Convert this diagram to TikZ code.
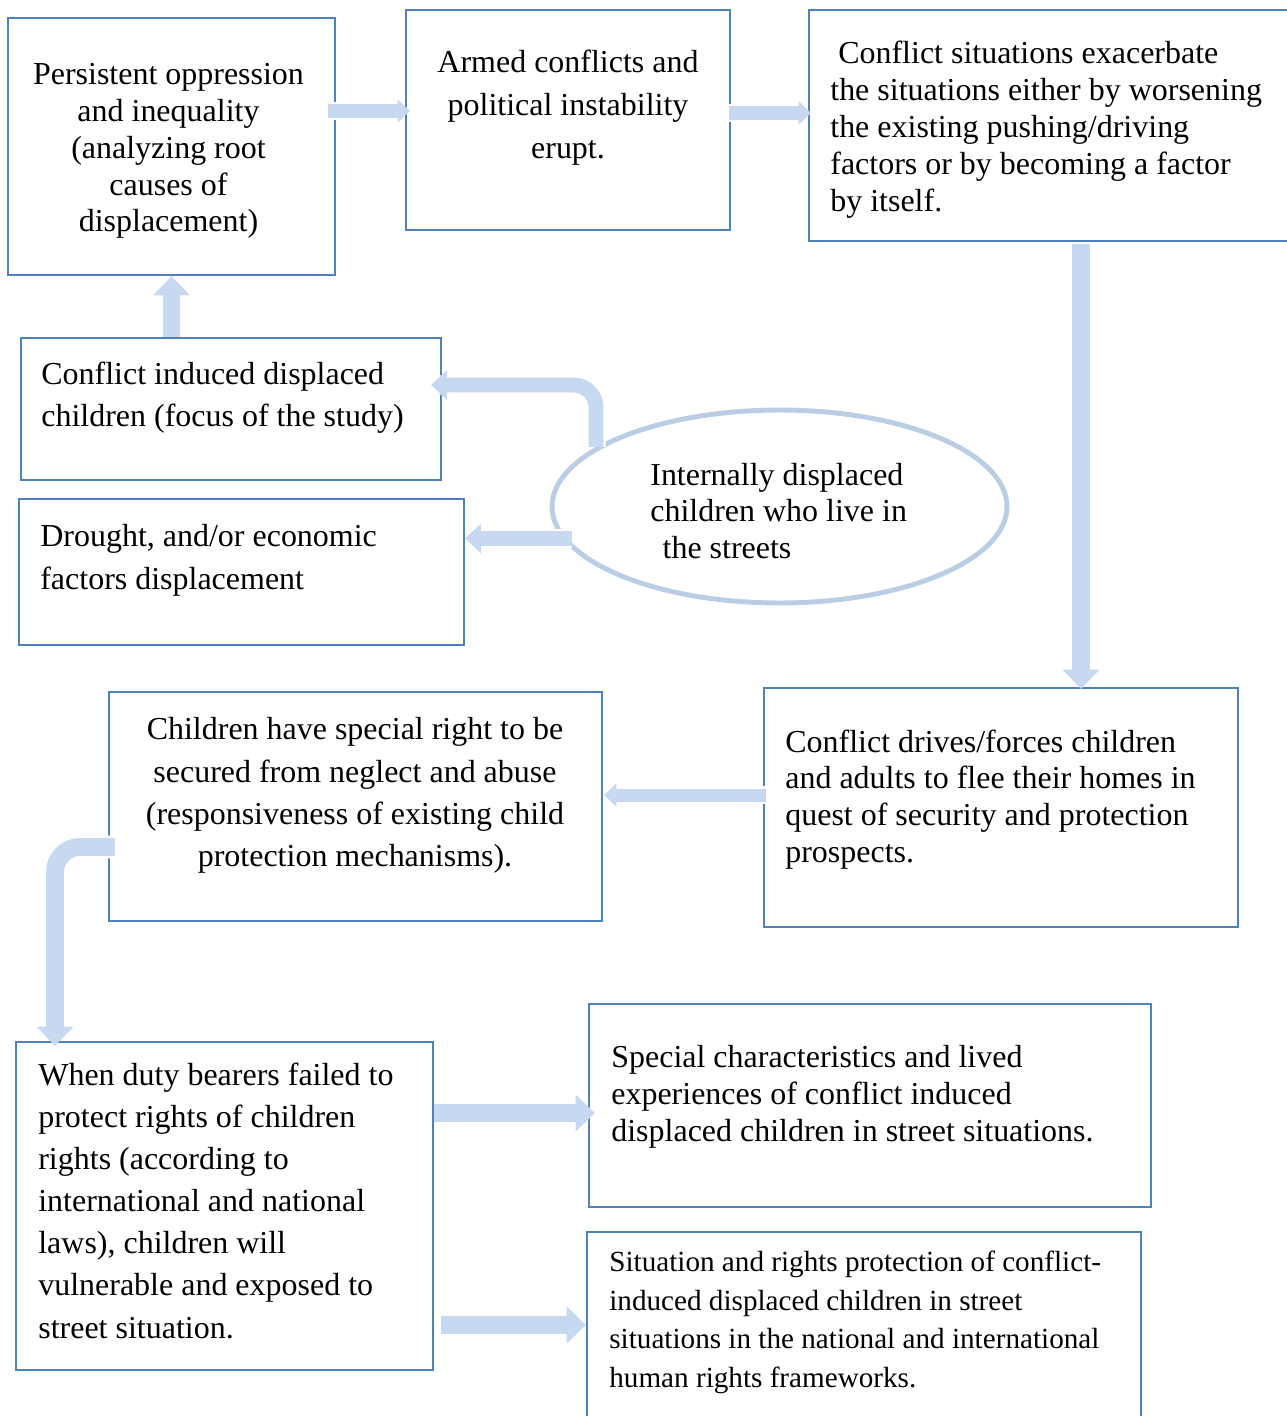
\documentclass[tikz,border=0pt]{standalone}
\usepackage{fontspec}
\setmainfont{Liberation Serif}
\usetikzlibrary{shapes.geometric,arrows.meta,calc}
\definecolor{boxblue}{RGB}{79,129,189}
\definecolor{arrblue}{RGB}{198,217,241}
\definecolor{ellblue}{RGB}{185,205,229}

\tikzset{
  thinarrow/.style={draw=arrblue, line width=7.4pt, -{Triangle[width=13pt,length=7pt]},
    preaction={draw=white, line width=10pt, -, shorten >=4pt}},
  midarrow/.style={draw=arrblue, line width=8.5pt, -{Triangle[width=16.5pt,length=9pt]},
    preaction={draw=white, line width=11pt, -, shorten >=5pt}},
  thickarrow/.style={draw=arrblue, line width=10.2pt, -{Triangle[width=20.5pt,length=11pt]},
    preaction={draw=white, line width=13pt, -, shorten >=6pt}}
}

\begin{document}
\begin{tikzpicture}[x=0.02cm,y=0.02cm]

  \useasboundingbox (0,0) rectangle (1286,-1416);

  % boxes
  \begin{scope}[every node/.style={draw=boxblue, line width=1.3pt, inner sep=0pt}]
    \node[minimum width=6.54cm, minimum height=5.14cm]  (1)  at (171.5,-146.5) {};
    \node[minimum width=6.48cm, minimum height=4.4cm]   (2)  at (568,-120) {};
    \node[minimum width=9.82cm, minimum height=4.62cm]  (3)  at (1054.5,-125.5) {};
    \node[minimum width=8.4cm,  minimum height=2.84cm]  (4)  at (231,-409) {};
    \node[minimum width=8.9cm,  minimum height=2.92cm]  (5)  at (241.5,-572) {};
    \node[minimum width=9.86cm, minimum height=4.58cm]  (6)  at (355.5,-806.5) {};
    \node[minimum width=9.48cm, minimum height=4.78cm]  (7)  at (1001,-807.5) {};
    \node[minimum width=8.34cm, minimum height=6.56cm]  (8)  at (224.5,-1206) {};
    \node[minimum width=11.24cm, minimum height=4.06cm] (9)  at (870,-1105.5) {};
    \node[minimum width=11.08cm, minimum height=4.16cm] (10) at (864,-1336) {};
    \node[ellipse, draw=ellblue, line width=2.8pt,
          minimum width=9.1cm, minimum height=3.86cm]   (11) at (779.5,-506.5) {};
  \end{scope}

  % texts
  \begin{scope}[every node/.style={inner sep=0pt, font=\fontsize{18.2}{21}\selectfont}]
    \node[align=center] (t1) at (168.5,-151)
      {Persistent oppression\\and inequality\\(analyzing root\\causes of\\displacement)};
    \node[align=center, font=\fontsize{18.2}{24.4}\selectfont] (t2) at (568,-108)
      {Armed conflicts and\\political instability\\erupt.};
    \node[align=left, anchor=west] (t3) at (830,-129.5)
      {\hspace*{4.5pt}Conflict situations exacerbate\\the situations either by worsening\\the existing pushing/driving\\factors or by becoming a factor\\by itself.};
    \node[align=left, anchor=west, font=\fontsize{18.2}{23.8}\selectfont] (t4) at (41,-398)
      {Conflict induced displaced\\children (focus of the study)};
    \node[align=left, anchor=west, font=\fontsize{18.2}{24.4}\selectfont] (t5) at (40,-560.5)
      {Drought, and/or economic\\factors displacement};
    \node[align=left, anchor=west] (t6) at (650,-511)
      {Internally displaced\\children who live in\\\hspace*{7pt}the streets};
    \node[align=center, font=\fontsize{18.2}{24}\selectfont] (t7) at (355,-795.5)
      {Children have special right to be\\secured from neglect and abuse\\(responsiveness of existing child\\protection mechanisms).};
    \node[align=left, anchor=west] (t8) at (785,-799.5)
      {Conflict drives/forces children\\and adults to flee their homes in\\quest of security and protection\\prospects.};
    \node[align=left, anchor=west, font=\fontsize{18.2}{24}\selectfont] (t9) at (38,-1200.5)
      {When duty bearers failed to\\protect rights of children\\rights (according to\\international and national\\laws), children will\\vulnerable and exposed to\\street situation.};
    \node[align=left, anchor=west] (t10) at (611,-1097)
      {Special characteristics and lived\\experiences of conflict induced\\displaced children in street situations.};
    \node[align=left, anchor=west, font=\fontsize{16.6}{22}\selectfont] (t11) at (609,-1322.5)
      {Situation and rights protection of conflict-\\induced displaced children in street\\situations in the national and international\\human rights frameworks.};
  \end{scope}

  % arrows
  \path ($(1.east)+(-8,35.5)$) edge[thinarrow] ($(2.west)+(5,9)$);
  \path ($(2.east)+(-2,7)$) edge[thinarrow] ($(3.west)+(3,12.5)$);
  \path ($(3.south)+(26.5,-2)$) edge[thickarrow] ($(7.north)+(80,-2)$);
  \path ($(7.west)+(3,12.5)$) edge[thinarrow] ($(6.east)+(1,11.5)$);
  \draw[thickarrow, rounded corners=0.5cm] ($(6.west)+(7,-40.5)$) -| ($(8.north)+(-169.5,-5)$);
  \draw[midarrow, rounded corners=0.45cm] (11.162) |- ($(4.east)+(-11,24)$);
  \coordinate (e5) at ($(5.east)+(0,33.5)$);
  \path ($(11.188 |- e5)+(11,0)$) edge[midarrow] (e5);
  \path (4.north -| 1.south) edge[thickarrow] (1.south);
  \path ($(8.east)+(0,93)$) edge[thickarrow] ($(9.west)+(7,-7.5)$);
  \path ($(8.east)+(7,-119)$) edge[thickarrow] ($(10.west)+(0,11)$);

\end{tikzpicture}
\end{document}
